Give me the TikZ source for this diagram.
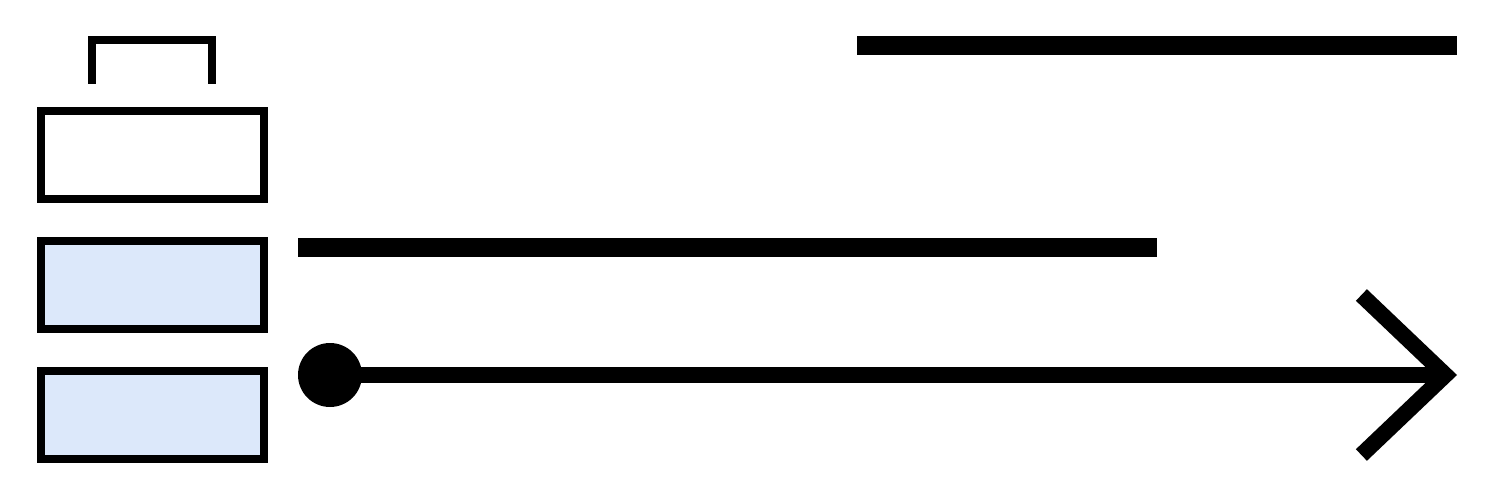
\documentclass[tikz,border=0pt]{standalone}
\usepackage{tikz}
\usetikzlibrary{arrows.meta}
\usetikzlibrary{calc}
\definecolor{paleblue}{HTML}{DCE8FA}

\begin{document}
\begin{tikzpicture}[x=1pt,y=-1pt,
	slot/.style={draw, line width=8pt, minimum width=223pt, minimum height=88pt, inner sep=0pt},
	bar/.style={line width=19pt}]
	\useasboundingbox (0,0) rectangle (1494,500);
	\draw [line width=8pt] (92,84) -- (92,40) -- (212,40) -- (212,84);
	\node [slot, fill=white] (top) at (152.5,155) {};
	\node [slot, fill=paleblue] (mid) at (152.5,285) {};
	\node [slot, fill=paleblue] (low) at (152.5,415) {};
	\draw [bar] (857,46) -- (1457,46);
	\draw [bar] (298,247) -- (1157,247);
	\node [circle, fill=black, minimum size=64pt, inner sep=0pt] (start) at (330,375) {};
	\coordinate (end) at (1457,375);
	\draw [line width=16pt, -{Straight Barb[length=84pt, width=160pt, line width=16pt]}] (start.center) -- (end);
\end{tikzpicture}
\end{document}
